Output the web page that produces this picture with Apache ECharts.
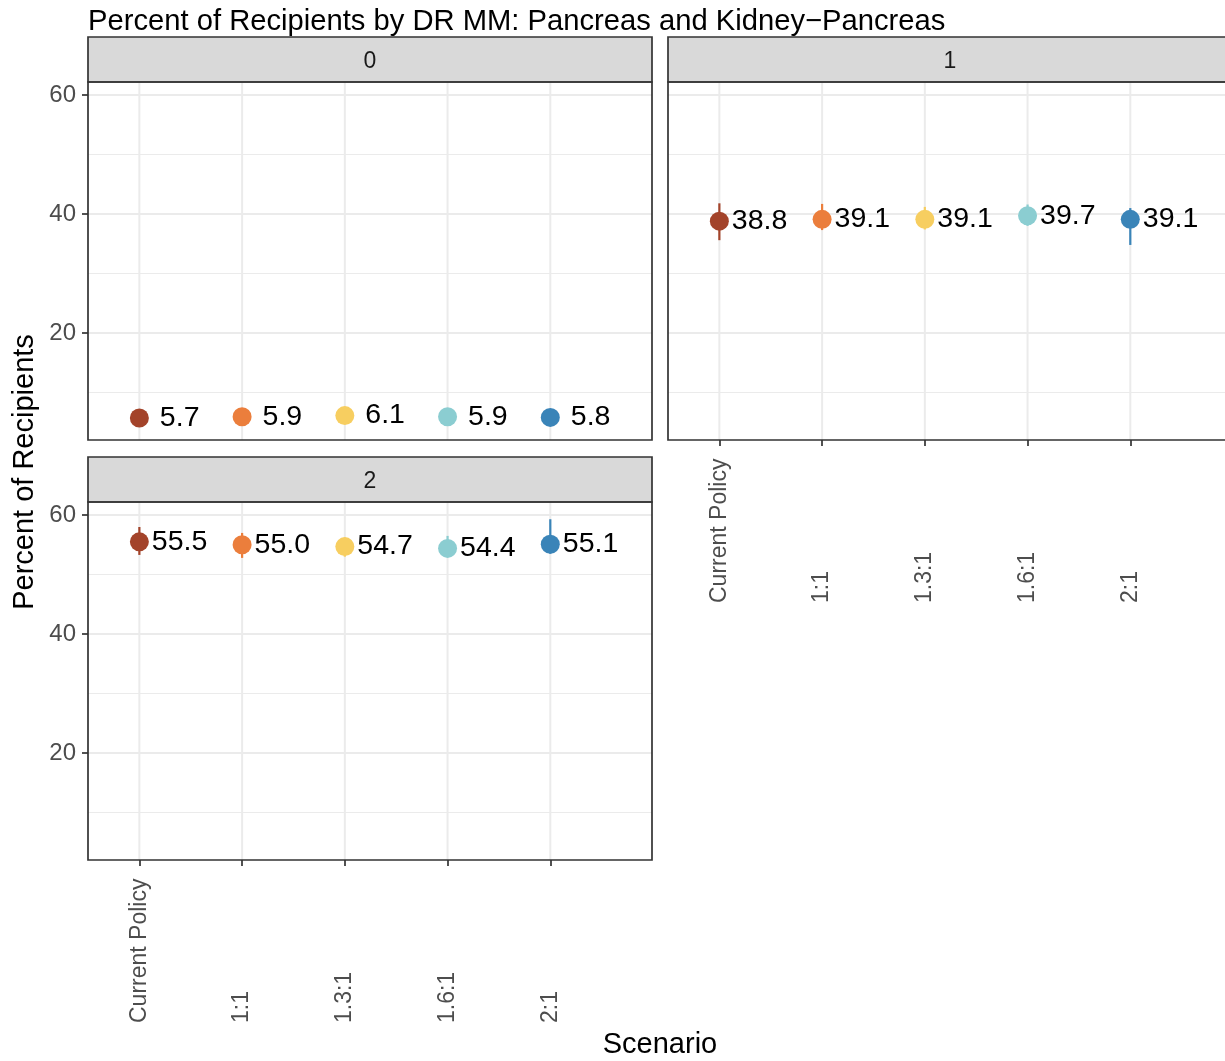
<!DOCTYPE html>
<html>
<head>
<meta charset="utf-8">
<script src="https://cdn.jsdelivr.net/npm/echarts@6/dist/echarts.min.js"></script>
<style>html,body{margin:0;padding:0;background:#fff}#c{width:1225px;height:1061px}</style>
</head>
<body>
<div id="c"></div>
<script>
// ---- data ----
const scenarios = ['Current Policy', '1:1', '1.3:1', '1.6:1', '2:1'];
const panelNames = ['0', '1', '2'];
const est0 = [5.7, 5.9, 6.1, 5.9, 5.8];
const lo0  = [5.0, 5.2, 5.4, 5.2, 5.1];
const hi0  = [6.4, 6.6, 6.8, 6.6, 6.5];
const est1 = [38.8, 39.1, 39.1, 39.7, 39.1];
const lo1  = [35.6, 37.3, 37.4, 38.0, 34.8];
const hi1  = [41.8, 41.7, 41.2, 41.6, 41.0];
const est2 = [55.5, 55.0, 54.7, 54.4, 55.1];
const lo2  = [53.3, 52.8, 53.0, 53.0, 53.5];
const hi2  = [58.0, 57.0, 56.2, 56.5, 59.3];
const yTicks = [20, 40, 60];
const yMinorTicks = [10, 30, 50];
const xTicks = [1, 2, 3, 4, 5];

// ---- styles ----
const colors = ['#A3432A', '#EB7E3C', '#F7CE60', '#8BCDD1', '#3A84B8'];
const FONT = "'Liberation Sans', Arial, Helvetica, sans-serif";
const yMin = 2.0, yMax = 62.2, xMin = 0.5, xMax = 5.99;
const PW = 564, PH = 358;
const panelPos = [[88, 82], [668, 82], [88, 502]];
const showY = [true, false, true];
const showX = [false, true, true];
const labelDist = [11, 3, 3];
const ests = [est0, est1, est2], los = [lo0, lo1, lo2], his = [hi0, hi1, hi2];

const chart = echarts.init(document.getElementById('c'));

const grids = panelPos.map(p => ({left: p[0], top: p[1], width: PW, height: PH, show: false,
  containLabel: false, outerBoundsMode: 'none'}));
const xAxes = panelPos.map((p, i) => ({
  type: 'value', gridIndex: i, min: xMin, max: xMax,
  axisLine: {show: false}, splitLine: {show: false},
  axisTick: {show: showX[i], customValues: xTicks, length: 6, lineStyle: {color: '#333', width: 1.7}},
  axisLabel: {show: showX[i], customValues: xTicks, formatter: v => scenarios[Math.round(v) - 1],
    rotate: 90, align: 'left', verticalAlign: 'middle', margin: 163,
    fontSize: 23, color: '#4D4D4D', fontFamily: FONT}
}));
const yAxes = panelPos.map((p, i) => ({
  type: 'value', gridIndex: i, min: yMin, max: yMax,
  axisLine: {show: false}, splitLine: {show: false},
  axisTick: {show: showY[i], customValues: yTicks, length: 6, lineStyle: {color: '#333', width: 1.7}},
  axisLabel: {show: showY[i], customValues: yTicks, margin: 12,
    fontSize: 24, color: '#4D4D4D', fontFamily: FONT}
}));

const series = [];
panelPos.forEach((p, i) => {
  const gridData = [];
  xTicks.forEach(v => gridData.push([0, v]));
  yMinorTicks.forEach(v => gridData.push([2, v]));
  yTicks.forEach(v => gridData.push([1, v]));
  series.push({
    type: 'custom', xAxisIndex: i, yAxisIndex: i, z: 1, silent: true,
    encode: {x: -1, y: -1},
    data: gridData,
    renderItem: (params, api) => {
      const cs = params.coordSys;
      const kind = api.value(0), v = api.value(1);
      if (kind === 0) {
        const x = api.coord([v, (yMin + yMax) / 2])[0];
        return {type: 'line', shape: {x1: x, y1: cs.y, x2: x, y2: cs.y + cs.height},
          style: {stroke: '#EBEBEB', lineWidth: 2}};
      }
      const y = api.coord([(xMin + xMax) / 2, v])[1];
      return {type: 'line', shape: {x1: cs.x, y1: y, x2: cs.x + cs.width, y2: y},
        style: {stroke: '#EBEBEB', lineWidth: kind === 1 ? 2 : 1.1}};
    }
  });
  series.push({
    type: 'custom', xAxisIndex: i, yAxisIndex: i, z: 2, silent: true,
    encode: {x: 0, y: [1, 2]},
    data: xTicks.map((x, k) => [x, los[i][k], his[i][k]]),
    renderItem: (params, api) => {
      const x = api.value(0);
      const a = api.coord([x, api.value(1)]);
      const b = api.coord([x, api.value(2)]);
      return {type: 'line', shape: {x1: a[0], y1: a[1], x2: b[0], y2: b[1]},
        style: {stroke: colors[Math.round(x) - 1], lineWidth: 2.2}};
    }
  });
  series.push({
    type: 'scatter', xAxisIndex: i, yAxisIndex: i, z: 3, symbol: 'circle', symbolSize: 19,
    data: xTicks.map((x, k) => ({value: [x, ests[i][k]], itemStyle: {color: colors[k], opacity: 1}})),
    label: {show: true, position: 'right', distance: labelDist[i], fontSize: 28.5, color: '#000',
      fontFamily: FONT, formatter: prm => prm.value[1].toFixed(1)},
    emphasis: {disabled: true}
  });
});

const graphics = [];
panelPos.forEach((p, i) => {
  graphics.push({type: 'rect', z: 100, shape: {x: p[0], y: p[1] - 45, width: PW, height: 45},
    style: {fill: '#D9D9D9', stroke: '#333', lineWidth: 1.7}});
  graphics.push({type: 'text', z: 101, x: p[0] + PW / 2, y: p[1] - 20,
    style: {text: panelNames[i], fill: '#1A1A1A', fontSize: 23, fontFamily: FONT,
      textAlign: 'center', textVerticalAlign: 'middle'}});
  graphics.push({type: 'rect', z: 100, shape: {x: p[0], y: p[1], width: PW, height: PH},
    style: {fill: 'transparent', stroke: '#333', lineWidth: 1.7}});
});
graphics.push({type: 'text', z: 101, x: 88, y: 22,
  style: {text: 'Percent of Recipients by DR MM: Pancreas and Kidney\u2212Pancreas', fill: '#000',
    fontSize: 29.2, fontFamily: FONT, textAlign: 'left', textVerticalAlign: 'middle'}});
graphics.push({type: 'text', z: 101, x: 660, y: 1045,
  style: {text: 'Scenario', fill: '#000', fontSize: 29, fontFamily: FONT,
    textAlign: 'center', textVerticalAlign: 'middle'}});
graphics.push({type: 'text', z: 101, x: 25, y: 472, rotation: Math.PI / 2,
  style: {text: 'Percent of Recipients', fill: '#000', fontSize: 29, fontFamily: FONT,
    textAlign: 'center', textVerticalAlign: 'middle'}});

chart.setOption({
  backgroundColor: '#fff',
  animation: false,
  grid: grids,
  xAxis: xAxes,
  yAxis: yAxes,
  series: series,
  graphic: graphics
});
</script>
</body>
</html>
